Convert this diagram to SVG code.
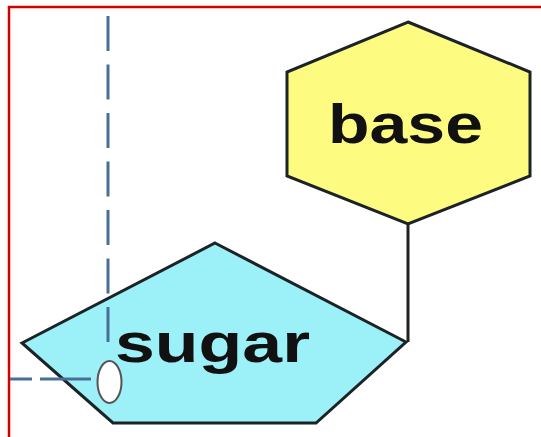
<svg xmlns="http://www.w3.org/2000/svg" width="541" height="437" viewBox="0 0 541 437">
<style>
.shape{stroke:#1c2326;stroke-width:3;stroke-linejoin:miter}
.label{font-family:"Liberation Sans",Arial,sans-serif;font-weight:bold;font-size:56px;fill:#111;text-anchor:middle}
.guide{stroke:#4a6f96;stroke-width:3;fill:none}
</style>
<rect width="541" height="437" fill="#ffffff"/>
<path d="M9,437 V7 H541" fill="none" stroke="#d40000" stroke-width="2.5"/>
<g id="connectors">
<line x1="408" y1="224" x2="408" y2="342" stroke="#222" stroke-width="3"/>
</g>
<g id="base">
<polygon class="shape" points="408,22 530,72 530,176 408,224 287,176 287,72" fill="#fdfc80"/>
<text class="label" x="405.5" y="143" textLength="155" lengthAdjust="spacingAndGlyphs">base</text>
</g>
<g id="sugar">
<polygon class="shape" points="215,243 406,342 316,423 113,423 22,343" fill="#9cf0f7"/>
<text class="label" x="212.5" y="362" textLength="195" lengthAdjust="spacingAndGlyphs">sugar</text>
</g>
<g id="guides">
<line class="guide" x1="108" y1="16" x2="108" y2="345" stroke-dasharray="35 13.5"/>
<line class="guide" x1="10" y1="379" x2="91" y2="379" stroke-dasharray="22 8 51 0"/>
<ellipse cx="109.5" cy="382" rx="12" ry="21" fill="#ffffff" stroke="#555" stroke-width="2"/>
</g>
</svg>
